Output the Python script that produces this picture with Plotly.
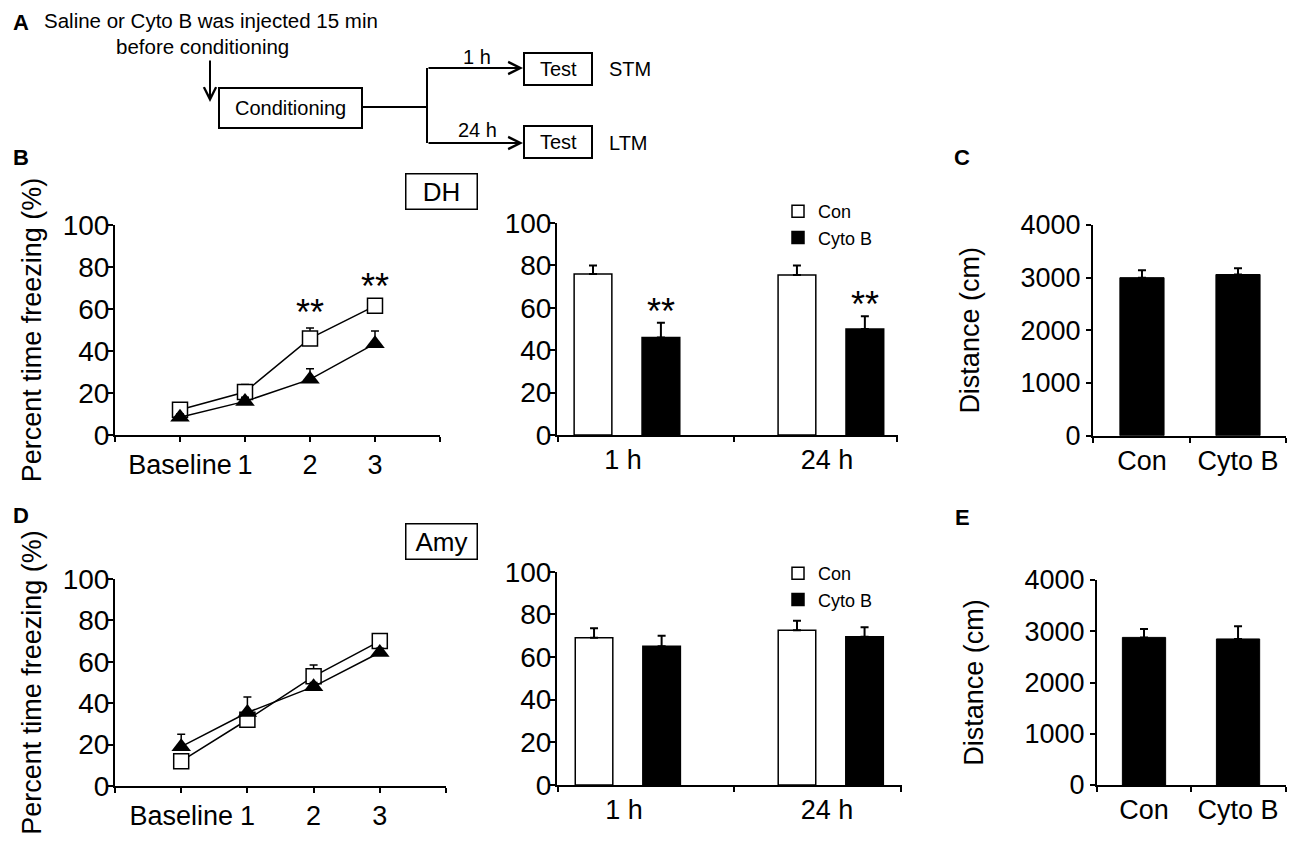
import plotly.graph_objects as go

FONT = "Liberation Sans, Arial, Helvetica, sans-serif"
W, H = 1300, 862
OFF = 8  # the page puts the plot 8 px in from the top-left corner

# ---- data ----
sessions = ["Baseline", "1", "2", "3"]
test_times = ["1 h", "24 h"]
groups = ["Con", "Cyto B"]

# DH: acquisition (percent freezing)
dh_acq_con = [12, 20.5, 46, 61.5]
dh_acq_con_err = [1.5, 3.5, 5, 2]
dh_acq_cyto = [8.5, 16, 26.5, 43.5]
dh_acq_cyto_err = [1.5, 2, 5, 6]
dh_acq_sig = [False, False, True, True]

# DH: memory tests
dh_test_con = [76, 75.5]
dh_test_con_err = [4, 4.5]
dh_test_cyto = [46, 50]
dh_test_cyto_err = [7, 6]
dh_test_sig = [True, True]

# DH: locomotion
dh_distance = [3000, 3060]
dh_distance_err = [140, 120]

# Amy: acquisition
amy_acq_con = [12, 32, 53, 70]
amy_acq_con_err = [1.5, 3, 5.5, 3.5]
amy_acq_cyto = [19, 35.5, 48, 64.5]
amy_acq_cyto_err = [6, 7.5, 2, 2]
amy_acq_sig = [False, False, False, False]

# Amy: memory tests
amy_test_con = [69, 72.5]
amy_test_con_err = [4.5, 4.5]
amy_test_cyto = [65, 69.5]
amy_test_cyto_err = [5, 4.5]
amy_test_sig = [False, False]

# Amy: locomotion
amy_distance = [2880, 2850]
amy_distance_err = [165, 250]


def pxx(v):
    return (v - OFF) / W


def pxy(v):
    return 1 - (v - OFF) / H


def up_err(err, thick=1.5):
    return dict(type="data", symmetric=False, array=err, arrayminus=[0] * len(err),
                color="black", thickness=thick, width=4)


fig = go.Figure()
annotations = []
shapes = []


def add_acq(con, con_err, cyto, cyto_err, sig, xa, ya):
    xs = list(range(1, len(sessions) + 1))
    fig.add_trace(go.Scatter(
        x=xs, y=con, mode="lines+markers", name="Con",
        line=dict(color="black", width=1.5),
        marker=dict(symbol="square", size=15, color="white", line=dict(color="black", width=1.5)),
        error_y=up_err(con_err), xaxis=xa, yaxis=ya, showlegend=False))
    fig.add_trace(go.Scatter(
        x=xs, y=cyto, mode="lines+markers", name="Cyto B",
        line=dict(color="black", width=1.5),
        marker=dict(symbol="triangle-up", size=17, color="black"),
        error_y=up_err(cyto_err), xaxis=xa, yaxis=ya, showlegend=False))
    for xv, v, e, s in zip(xs, con, con_err, sig):
        if s:
            annotations.append(dict(x=xv, y=v + e, xref=xa, yref=ya, text="**", showarrow=False,
                                    yanchor="bottom", yshift=-7, font=dict(size=36)))


def add_test(con, con_err, cyto, cyto_err, sig, xa, ya, leg):
    xs = list(range(len(test_times)))
    fig.add_trace(go.Bar(
        x=xs, y=con, name=groups[0], width=0.185, offset=-0.24,
        marker=dict(color="white", line=dict(color="black", width=1.5)),
        error_y=up_err(con_err, 2), xaxis=xa, yaxis=ya, legend=leg))
    fig.add_trace(go.Bar(
        x=xs, y=cyto, name=groups[1], width=0.185, offset=0.093,
        marker=dict(color="black", line=dict(color="black", width=1.5)),
        error_y=up_err(cyto_err, 2), xaxis=xa, yaxis=ya, legend=leg))
    for xv, v, e, s in zip(xs, cyto, cyto_err, sig):
        if s:
            annotations.append(dict(x=xv + 0.185, y=v + e, xref=xa, yref=ya, text="**",
                                    showarrow=False, yanchor="bottom", yshift=-11,
                                    font=dict(size=36)))


def add_dist(vals, err, xa, ya):
    fig.add_trace(go.Bar(
        x=list(range(len(groups))), y=vals, width=0.46,
        marker=dict(color="black", line=dict(color="black", width=1)),
        error_y=up_err(err, 2), xaxis=xa, yaxis=ya, showlegend=False))


add_acq(dh_acq_con, dh_acq_con_err, dh_acq_cyto, dh_acq_cyto_err, dh_acq_sig, "x", "y")
add_test(dh_test_con, dh_test_con_err, dh_test_cyto, dh_test_cyto_err, dh_test_sig, "x2", "y2", "legend")
add_dist(dh_distance, dh_distance_err, "x3", "y3")
add_acq(amy_acq_con, amy_acq_con_err, amy_acq_cyto, amy_acq_cyto_err, amy_acq_sig, "x4", "y4")
add_test(amy_test_con, amy_test_con_err, amy_test_cyto, amy_test_cyto_err, amy_test_sig, "x5", "y5", "legend2")
add_dist(amy_distance, amy_distance_err, "x6", "y6")

base = dict(showline=True, linecolor="black", linewidth=2, showgrid=False, zeroline=False,
            ticks="outside", ticklen=5, tickwidth=2, tickcolor="black",
            tickfont=dict(size=27, color="black"), fixedrange=True)
ytitle = dict(font=dict(size=27, color="black"), standoff=13)


def line_x(x0, x1, y_anchor):
    return dict(base, domain=[pxx(x0), pxx(x1)], anchor=y_anchor, range=[0, len(sessions) + 1],
                tickvals=list(range(len(sessions) + 2)), ticktext=[""] + sessions + [""])


def bar_x(x0, x1, y_anchor, labels, rng, mid):
    return dict(base, domain=[pxx(x0), pxx(x1)], anchor=y_anchor, range=rng,
                tickvals=list(range(len(labels))), ticktext=labels, ticks="",
                minor=dict(tickvals=[rng[0] + 0.004, mid, rng[1] - 0.004], ticks="outside",
                           ticklen=5, tickwidth=2, tickcolor="black"))


def pct_y(y0, y1, x_anchor, title=None):
    d = dict(base, domain=[pxy(y0), pxy(y1)], anchor=x_anchor, range=[0, 100],
             tickvals=[0, 20, 40, 60, 80, 100], tickfont=dict(size=28, color="black"),
             ticklabelstandoff=-7)
    if title:
        d["title"] = dict(ytitle, text=title)
    return d


def dist_y(y0, y1, x_anchor):
    return dict(base, domain=[pxy(y0), pxy(y1)], anchor=x_anchor, range=[0, 4000],
                tickvals=[0, 1000, 2000, 3000, 4000], tickfont=dict(size=27, color="black"),
                title=dict(ytitle, text="Distance (cm)", standoff=33))


layout = dict(
    width=W, height=H, margin=dict(l=0, r=0, t=0, b=0),
    paper_bgcolor="white", plot_bgcolor="white", template="none",
    font=dict(family=FONT, color="black", size=20),
    barmode="overlay",
    xaxis=line_x(115, 440, "y"),
    yaxis=pct_y(435, 225, "x", "Percent time freezing (%)"),
    xaxis2=bar_x(557, 898, "y2", test_times, [-0.324, 1.348], 0.544),
    yaxis2=pct_y(435, 223, "x2"),
    xaxis3=bar_x(1093, 1286, "y3", groups, [-0.51, 1.5], 0.5),
    yaxis3=dist_y(435.7, 225, "x3"),
    xaxis4=line_x(115, 446, "y4"),
    yaxis4=pct_y(786, 579, "x4", "Percent time freezing (%)"),
    xaxis5=bar_x(557, 902, "y5", test_times, [-0.33, 1.37], 0.542),
    yaxis5=pct_y(785, 571.7, "x5"),
    xaxis6=bar_x(1097, 1286, "y6", groups, [-0.5, 1.51], 0.5),
    yaxis6=dist_y(785, 580, "x6"),
    legend=dict(x=pxx(778), y=pxy(193), xanchor="left", yanchor="top", font=dict(size=18),
                bgcolor="rgba(0,0,0,0)", tracegroupgap=0),
    legend2=dict(x=pxx(778), y=pxy(555), xanchor="left", yanchor="top", font=dict(size=18),
                 bgcolor="rgba(0,0,0,0)", tracegroupgap=0),
)

fig.update_layout(**layout)


def note(text, x, y, size=20, xanchor="center", bold=False, **kw):
    annotations.append(dict(text="<b>%s</b>" % text if bold else text, x=pxx(x), y=pxy(y),
                            xref="paper", yref="paper", showarrow=False, xanchor=xanchor,
                            yanchor="middle", font=dict(size=size), **kw))


# panel letters
for letter, lx, ly in [("A", 21, 22), ("B", 21, 157), ("C", 962, 157), ("D", 21, 516), ("E", 962, 517)]:
    note(letter, lx, ly, size=22, bold=True)

# region boxes
note("DH", 441.5, 191.5, size=26, bordercolor="black", borderwidth=1.5, width=68, height=32, borderpad=1)
note("Amy", 441.5, 541.5, size=26, bordercolor="black", borderwidth=1.5, width=68, height=32, borderpad=1)

# panel A: protocol schematic
note("Saline or Cyto B was injected 15 min", 42, 21, size=20.5, xanchor="left")
note("before conditioning", 202, 47, size=20.5)
note("Conditioning", 290.5, 108, size=20)
note("Test", 558, 69, size=20)
note("Test", 558, 142, size=20)
note("STM", 607, 69, size=20, xanchor="left")
note("LTM", 607, 143, size=20, xanchor="left")
note("1 h", 477, 57, size=20)
note("24 h", 477, 130, size=20)


def rect(x0, y0, x1, y1):
    shapes.append(dict(type="rect", xref="paper", yref="paper", x0=pxx(x0), x1=pxx(x1),
                       y0=pxy(y0), y1=pxy(y1), line=dict(color="black", width=2)))


def seg(x0, y0, x1, y1):
    shapes.append(dict(type="line", xref="paper", yref="paper", x0=pxx(x0), x1=pxx(x1),
                       y0=pxy(y0), y1=pxy(y1), line=dict(color="black", width=2)))


def arrow(x, y, ax, ay):
    annotations.append(dict(x=pxx(x), y=pxy(y), xref="paper", yref="paper", ax=ax, ay=ay,
                            text="", showarrow=True, arrowhead=5, arrowsize=1.2, arrowwidth=2,
                            arrowcolor="black", standoff=0, startstandoff=0))


rect(219, 88, 362, 128)
rect(524, 53, 592, 85)
rect(524, 126, 592, 158)
seg(362, 107, 427, 107)
seg(427, 68, 427, 143)
arrow(523, 68, -96, 0)
arrow(523, 143, -96, 0)
arrow(210, 102, 0, -43)

fig.update_layout(annotations=annotations, shapes=shapes)
fig.write_html("out.html")
